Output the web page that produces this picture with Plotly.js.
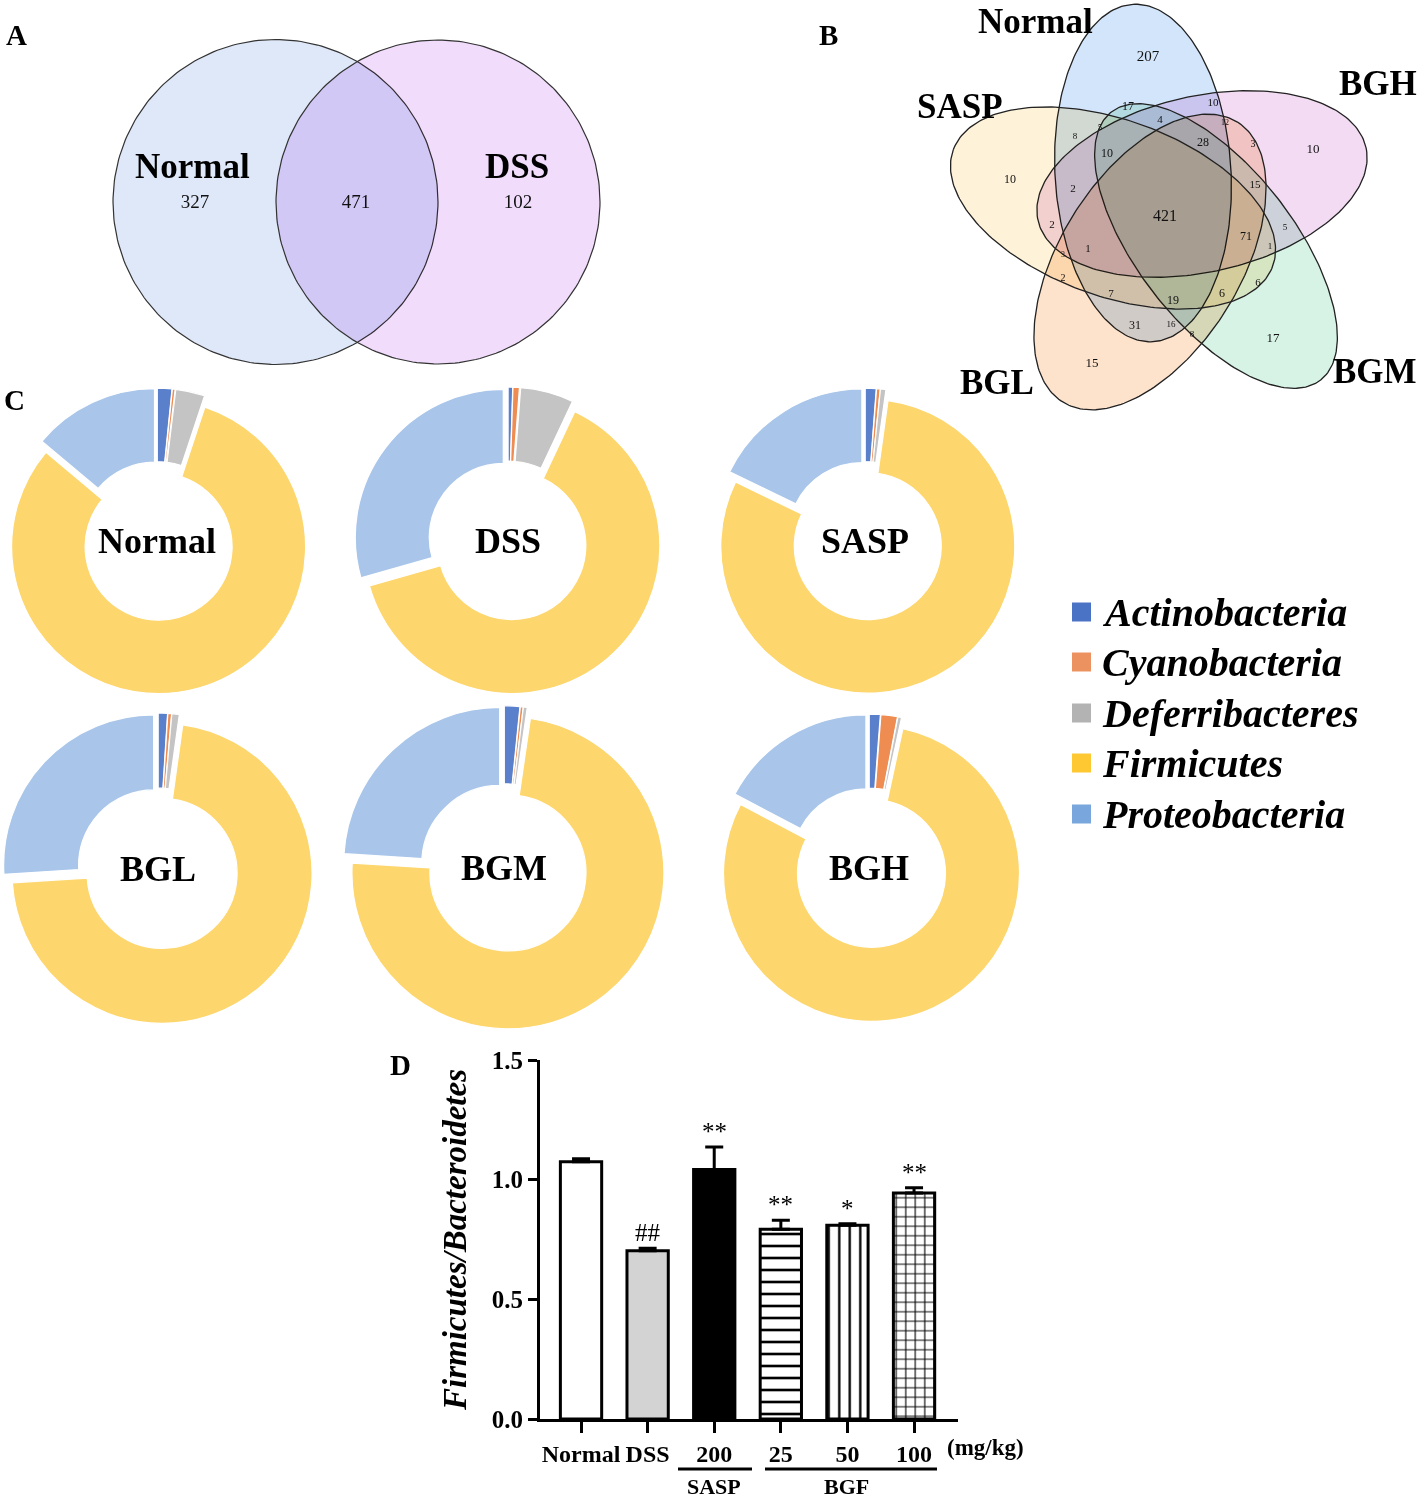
<!DOCTYPE html>
<html><head><meta charset="utf-8">
<script src="https://cdn.plot.ly/plotly-3.0.1.min.js"></script>
<style>
html,body{margin:0;padding:0;background:#fff;}
#chart{width:1418px;height:1499px;}
.scatterlayer .trace .js-fill{mix-blend-mode:multiply;}
</style>
</head><body><div id="chart"></div>
<script>
// ================= DATA =================
// Panel A: two-set Venn (OTUs)
const vennAGroups = ['Normal', 'DSS'];
const vennACounts = [327, 471, 102];           // Normal only, shared, DSS only

// Panel B: five-set Venn
const vennBGroups = ['Normal', 'BGH', 'BGM', 'BGL', 'SASP'];
const vennBCounts = [207, 17, 10, 4, 5, 12, 8, 28, 3, 10, 10, 10, 2, 15, 421, 2, 5, 71, 1, 1, 3, 2, 6, 7, 19, 6, 31, 16, 8, 17, 15];

// Panel C: phylum composition (%)
const phyla = ['Actinobacteria', 'Cyanobacteria', 'Deferribacteres', 'Firmicutes', 'Proteobacteria'];
const donutGroups = ['Normal', 'DSS', 'SASP', 'BGL', 'BGM', 'BGH'];
const abundNormal = [1.6, 0.3, 3.2, 81.0, 13.9];
const abundDSS    = [0.5, 0.7, 5.8, 63.6, 29.4];
const abundSASP   = [1.2, 0.4, 0.6, 80.0, 17.8];
const abundBGL    = [1.0, 0.4, 0.8, 71.8, 26.0];
const abundBGM    = [1.6, 0.3, 0.4, 73.7, 24.0];
const abundBGH    = [1.2, 1.8, 0.4, 79.3, 17.3];

// Panel D: Firmicutes/Bacteroidetes ratio
const barCategories = ['Normal', 'DSS', '200', '25', '50', '100'];
const barValues = [1.075, 0.703, 1.042, 0.793, 0.810, 0.944];
const barErrors = [0.012, 0.010, 0.094, 0.037, 0.006, 0.022];
const barSignif = ['', '##', '**', '**', '*', '**'];
const barGroupLabels = ['SASP', 'BGF'];

// ================= LAYOUT / STYLE =================
const W = 1418, H = 1499;
const px = x => x / W, py = y => 1 - y / H;
const SERIF = 'Liberation Serif, Times New Roman, serif';

const vennACircles = [{cx: 275.5, cy: 202, r: 162.5, fill: '#dfe8f9'}, {cx: 438, cy: 202, r: 162, fill: '#f1dcfb'}];
const vennACountPos = [[195, 203], [356, 203], [518, 203]];
const vennANamePos = [[192, 166], [517, 166]];

const vennBEllipses = [
  {cx: 1143, cy: 173, a: 169, b: 88, t: 93.4, fill: '#d3e5fa'},
  {cx: 1202, cy: 184, a: 168, b: 88, t: 12.5, fill: '#f3dcf3'},
  {cx: 1216, cy: 246, a: 170, b: 78, t: -52, fill: '#d7f3e5'},
  {cx: 1150, cy: 262, a: 165, b: 90, t: 58, fill: '#fde2cc'},
  {cx: 1113, cy: 208, a: 170, b: 88, t: 160, fill: '#fef2d8'}
];
const vennBCountPos = [[1148,57],[1128,107],[1213,103],[1160,120],[1100,128],[1225,123],[1075,137],[1203,143],[1253,144],[1313,150],[1010,180],[1107,154],[1073,189],[1255,185],[1165,217],[1052,225],[1285,228],[1246,237],[1270,247],[1088,249],[1063,255],[1063,278],[1258,283],[1111,294],[1173,301],[1222,294],[1135,326],[1171,325],[1192,335],[1273,339],[1092,364]];
const vennBCountSize = [15,12,11,11,8,8,9,12,10,13,12,12,11,11,16,11,9,12,9,11,8,10,11,11,12,12,12,9,9,13,13];
const vennBNamePos = [[1035,22],[1378,84],[1375,371],[997,383],[960,107]];

const donutCenters = [[157,541],[508,541],[865,541],[158,869],[504,868],[869,868]];
const donutRadius = [147, 148, 147, 150, 156, 148];
const donutPull = 0.04;
const donutColors = ['#5a80cc', '#ee8c52', '#c4c4c4', '#fdd66e', '#a9c6ea'];
const legendColors = ['#4a73c5', '#ec9260', '#b3b3b3', '#fdc832', '#79a6dc'];
const legendY = [612, 662, 713, 763, 814];

// patterned bars: marker colour acts as the hatch colour (replace mode)
const barFill = ['#ffffff', '#d3d3d3', '#000000', '#000000', '#000000', '#000000'];
const barPattern = ['', '', '', '-', '|', '+'];
const barPatternSize = [10, 10, 10, 12, 10.5, 9.5];

// ================= BUILD =================
function ellipsePts(cx, cy, a, b, deg, n) {
  const t = deg * Math.PI / 180, xs = [], ys = [];
  for (let i = 0; i <= n; i++) {
    const s = 2 * Math.PI * i / n, u = a * Math.cos(s), v = b * Math.sin(s);
    xs.push(cx + u * Math.cos(t) - v * Math.sin(t));
    ys.push(cy - (u * Math.sin(t) + v * Math.cos(t)));
  }
  return {xs, ys};
}

const traces = [];
vennACircles.forEach((c, i) => {
  const e = ellipsePts(c.cx, c.cy, c.r, c.r, 0, 240);
  traces.push({type: 'scatter', x: e.xs, y: e.ys, mode: 'lines', fill: 'toself', fillcolor: c.fill,
    line: {color: '#333', width: 1.2}, name: vennAGroups[i], hoverinfo: 'name', showlegend: false, xaxis: 'x', yaxis: 'y'});
});
traces.push({type: 'scatter', mode: 'text', x: vennACountPos.map(p => p[0]), y: vennACountPos.map(p => p[1]),
  text: vennACounts.map(String), textfont: {family: SERIF, size: 19, color: '#111'}, hoverinfo: 'text', showlegend: false, xaxis: 'x', yaxis: 'y'});

vennBEllipses.forEach((c, i) => {
  const e = ellipsePts(c.cx, c.cy, c.a, c.b, c.t, 240);
  traces.push({type: 'scatter', x: e.xs, y: e.ys, mode: 'lines', fill: 'toself', fillcolor: c.fill,
    line: {color: '#222', width: 1.3}, name: vennBGroups[i], hoverinfo: 'name', showlegend: false, xaxis: 'x', yaxis: 'y'});
});
traces.push({type: 'scatter', mode: 'text', x: vennBCountPos.map(p => p[0]), y: vennBCountPos.map(p => p[1]),
  text: vennBCounts.map(String), textfont: {family: SERIF, size: vennBCountSize, color: '#111'}, hoverinfo: 'text', showlegend: false, xaxis: 'x', yaxis: 'y'});

const abund = [abundNormal, abundDSS, abundSASP, abundBGL, abundBGM, abundBGH];
abund.forEach((vals, i) => {
  const [cx, cy] = donutCenters[i], half = donutRadius[i] * (1 + donutPull);
  traces.push({type: 'pie', labels: phyla, values: vals, name: donutGroups[i], sort: false, direction: 'clockwise', rotation: 0,
    hole: 0.5, pull: donutPull, textinfo: 'none', hoverinfo: 'label+percent+name', showlegend: false,
    marker: {colors: donutColors, line: {color: '#ffffff', width: 1.2}},
    domain: {x: [px(cx - half), px(cx + half)], y: [py(cy + half), py(cy - half)]}});
});

traces.push({type: 'bar', x: barCategories, y: barValues, xaxis: 'x2', yaxis: 'y2', width: 0.62, showlegend: false,
  marker: {color: barFill, line: {color: '#000', width: 3},
    pattern: {shape: barPattern, size: barPatternSize, solidity: 0.22, fillmode: 'replace'}},
  error_y: {type: 'data', symmetric: false, array: barErrors, arrayminus: barErrors.map(() => 0), color: '#000', thickness: 3, width: 9}});

const ann = [];
const txt = (t, x, y, font, extra) => ann.push(Object.assign({text: t, x: px(x), y: py(y), xref: 'paper', yref: 'paper',
  xanchor: 'center', yanchor: 'middle', showarrow: false, font: font}, extra || {}));
const bold = s => ({family: SERIF, size: s, weight: 'bold', color: '#000'});
txt('A', 16, 35, bold(29)); txt('B', 828, 35, bold(29)); txt('C', 15, 400, bold(29)); txt('D', 400, 1065, bold(29));

vennAGroups.forEach((g, i) => txt(g, vennANamePos[i][0], vennANamePos[i][1], bold(35)));
vennBGroups.forEach((g, i) => txt(g, vennBNamePos[i][0], vennBNamePos[i][1], bold(35)));
donutGroups.forEach((g, i) => txt(g, donutCenters[i][0], donutCenters[i][1], bold(36)));

const shapes = [];
phyla.forEach((p, i) => {
  shapes.push({type: 'rect', xref: 'paper', yref: 'paper', x0: px(1072), x1: px(1091), y0: py(legendY[i] + 9.5), y1: py(legendY[i] - 9.5),
    fillcolor: legendColors[i], line: {width: 0}});
  txt(p, 1100, legendY[i], {family: SERIF, size: 40, weight: 'bold', style: 'italic', color: '#000'}, {xanchor: 'left'});
});

barCategories.forEach((c, i) => {
  if (!barSignif[i]) return;
  ann.push({text: barSignif[i], x: i, y: barValues[i] + barErrors[i], xref: 'x2', yref: 'y2', xanchor: 'center', yanchor: 'bottom', yshift: 0,
    showarrow: false, font: {family: SERIF, size: 25, color: '#000'}});
});
txt('(mg/kg)', 985, 1447, bold(23));
txt(barGroupLabels[0], 714, 1486, bold(22));
txt(barGroupLabels[1], 847, 1486, bold(22));
shapes.push({type: 'line', xref: 'paper', yref: 'paper', x0: px(678), x1: px(752), y0: py(1469), y1: py(1469), line: {color: '#000', width: 3}});
shapes.push({type: 'line', xref: 'paper', yref: 'paper', x0: px(765), x1: px(937), y0: py(1469), y1: py(1469), line: {color: '#000', width: 3}});

const layout = {
  width: W, height: H, margin: {l: 0, r: 0, t: 0, b: 0}, paper_bgcolor: '#fff', plot_bgcolor: 'rgba(0,0,0,0)',
  showlegend: false,
  xaxis: {domain: [0, 1], range: [0, W], autorange: false, visible: false, fixedrange: true},
  yaxis: {domain: [0, 1], range: [H, 0], autorange: false, visible: false, fixedrange: true},
  xaxis2: {domain: [px(540), px(958)], anchor: 'y2', type: 'category', range: [-0.616, 5.66], autorange: false,
    showline: true, linewidth: 3, linecolor: '#000', ticks: 'outside', ticklen: 11, tickwidth: 3, tickcolor: '#000',
    showgrid: false, zeroline: false, tickfont: {family: SERIF, size: 24, weight: 'bold', color: '#000'}},
  yaxis2: {domain: [py(1419), py(1060)], anchor: 'x2', range: [0, 1.5], autorange: false, dtick: 0.5, tickformat: '.1f',
    showline: true, linewidth: 3, linecolor: '#000', ticks: 'outside', ticklen: 9, tickwidth: 3, tickcolor: '#000',
    showgrid: false, zeroline: false, tickfont: {family: SERIF, size: 25, weight: 'bold', color: '#000'},
    title: {text: 'Firmicutes/Bacteroidetes', standoff: 16, font: {family: SERIF, size: 33, weight: 'bold', style: 'italic', color: '#000'}}},
  annotations: ann, shapes: shapes
};
Plotly.newPlot('chart', traces, layout, {displayModeBar: false});
</script>
</body></html>
